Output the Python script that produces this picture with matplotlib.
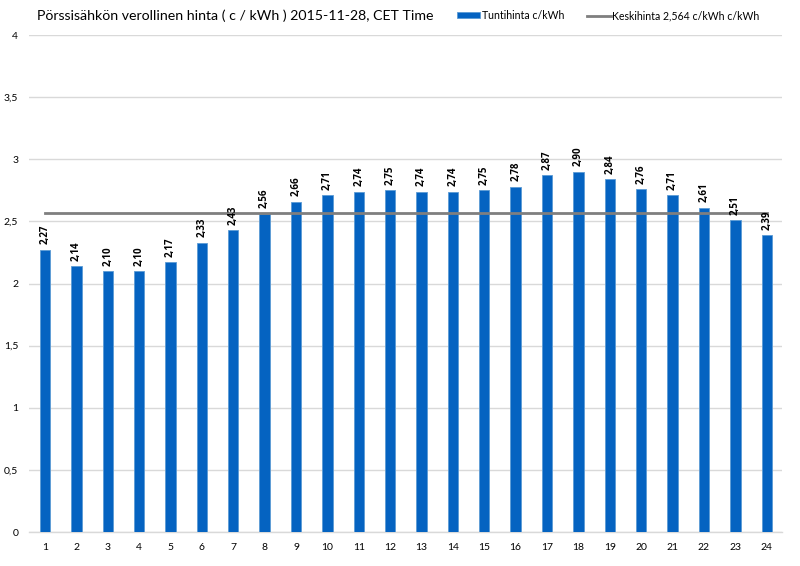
import matplotlib.pyplot as plt
from matplotlib.ticker import FuncFormatter

plt.rcParams['font.family'] = ['Lato', 'DejaVu Sans']

# Data
hours = list(range(1, 25))
prices = [2.27, 2.14, 2.10, 2.10, 2.17, 2.33, 2.43, 2.56, 2.66, 2.71, 2.74, 2.75,
          2.74, 2.74, 2.75, 2.78, 2.87, 2.90, 2.84, 2.76, 2.71, 2.61, 2.51, 2.39]
average = 2.564

fig = plt.figure(figsize=(8, 5.66), dpi=100)
ax = fig.add_axes([0.0366, 0.060, 0.9414, 0.878])

bars = ax.bar(hours, prices, width=0.33, color='#0563C1', edgecolor='#5B9BD5',
              linewidth=0.6, zorder=3, label='Tuntihinta c/kWh')
line, = ax.plot(hours, [average] * len(hours), color='#7F7F7F', linewidth=2, zorder=4,
                label='Keskihinta 2,564 c/kWh c/kWh')

for h, p in zip(hours, prices):
    ax.text(h, p + 0.045, f'{p:.2f}'.replace('.', ','), rotation=90, ha='center',
            va='bottom', fontsize=7, fontweight='bold', color='#000000', zorder=5,
            family=['Open Sans', 'DejaVu Sans'])

ax.set_xlim(0.5, 24.5)
ax.set_ylim(0, 4)
ax.set_yticks([0, 0.5, 1, 1.5, 2, 2.5, 3, 3.5, 4])
ax.yaxis.set_major_formatter(FuncFormatter(lambda v, pos: f'{v:g}'.replace('.', ',')))
ax.set_xticks(hours)
ax.grid(axis='y', color='#D9D9D9', linewidth=1, zorder=0)
for s in ['top', 'right', 'left']:
    ax.spines[s].set_visible(False)
ax.spines['bottom'].set_color('#D9D9D9')
ax.spines['bottom'].set_linewidth(1)
ax.tick_params(axis='both', length=0, labelsize=7.5, colors='#000000')
ax.tick_params(axis='x', pad=8)
ax.tick_params(axis='y', pad=8)

fig.text(0.046, 0.973, 'Pörssisähkön verollinen hinta ( c / kWh ) 2015-11-28, CET Time',
         fontsize=10.2, va='center', ha='left')
ax.legend([bars, line], [bars.get_label(), line.get_label()],
          loc='center right', bbox_to_anchor=(0.975, 1.039), ncol=2, frameon=False,
          fontsize=7.6, handlelength=2.2, handleheight=0.5, columnspacing=2.2,
          handletextpad=0.15, borderaxespad=0)

fig.savefig('out.png', dpi=100)
